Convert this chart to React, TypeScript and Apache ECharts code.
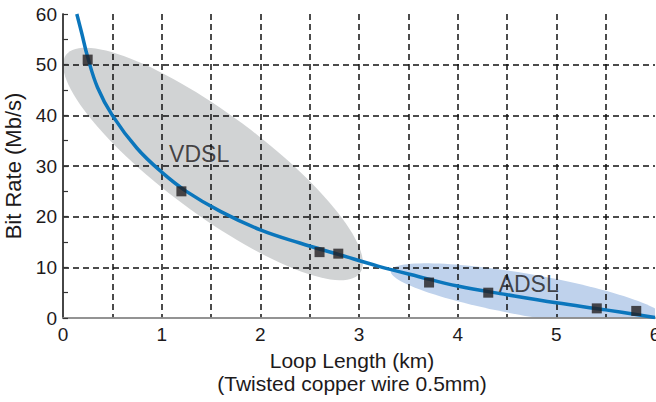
import React, { useEffect, useRef } from "react";
import * as echarts from "echarts";

// Measured data points (Loop length km, bit rate Mb/s)
const measuredPoints: [number, number][] = [
  [0.25, 51], [1.2, 25], [2.6, 13], [2.79, 12.7], [3.71, 7.0], [4.31, 5.0], [5.41, 1.9], [5.81, 1.4],
];

// Fitted curve points
const curvePoints: [number, number][] = [
  [0.14, 60], [0.19, 56.2], [0.25, 51.5], [0.35, 45.5], [0.5, 40], [0.75, 33.5], [1.0, 28.8],
  [1.25, 25.0], [1.6, 21.0], [2.0, 17.4], [2.4, 14.8], [2.8, 12.5], [3.2, 10.2], [3.6, 8.2],
  [4.0, 6.3], [4.5, 4.6], [5.0, 3.0], [5.5, 1.6], [6.0, 0.1],
];

// Region ellipses: [centerX (km), centerY (Mb/s)]
const ellipseCenters: [number, number][] = [[1.52, 30.4], [4.72, 4.5]];
const ellipseNames = ["VDSL", "ADSL"];
const labelPositions: [number, number][] = [[1.38, 32.4], [4.72, 6.7]];

const xTicks = [0, 1, 2, 3, 4, 5, 6];

const ELLIPSE_STYLE = [
  { rx: 183, ry: 50, angle: 36.6, fill: "#d1d3d4" },
  { rx: 140, ry: 21, angle: 10, fill: "#bfd2ec" },
];

const FONT = "'Liberation Sans', Arial, Helvetica, sans-serif";
const INK = "#1d1a1b";

export default function App() {
  const ref = useRef<HTMLDivElement>(null);
  useEffect(() => {
    if (!ref.current) return;
    const chart = echarts.init(ref.current, undefined, { renderer: "svg" });
    const dash = { color: "#111", type: [6, 4] as any, width: 1.5 };
    chart.setOption({
      animation: false,
      textStyle: { fontFamily: FONT },
      grid: { left: 63, right: 1, top: 14, bottom: 84, containLabel: false, outerBoundsMode: "none" },
      xAxis: [
        {
          type: "value", min: 0, max: 6, interval: 0.5, position: "bottom", z: 3,
          name: "Loop Length (km)\n(Twisted copper wire 0.5mm)",
          nameLocation: "middle", nameGap: 27,
          nameTextStyle: { fontSize: 21, color: INK, lineHeight: 23, fontFamily: FONT, padding: [0, 14, 0, 0] },
          axisLine: { show: true, lineStyle: { color: "#8c8c8c", width: 1.5 } },
          axisTick: { show: false },
          axisLabel: {
            fontSize: 19, color: INK, margin: 7, fontFamily: FONT,
            formatter: (v: number) => (xTicks.includes(v) ? String(v) : ""),
          },
          splitLine: { show: true, showMinLine: false, showMaxLine: false, lineStyle: dash },
        },
        {
          type: "value", min: 0, max: 6, position: "top", z: 3,
          axisLine: { show: true, lineStyle: { color: "#8c8c8c", width: 1.5 } },
          axisTick: { show: false }, axisLabel: { show: false }, splitLine: { show: false },
        },
      ],
      yAxis: [
        {
          type: "value", min: 0, max: 60, interval: 10, position: "left", z: 3,
          name: "Bit Rate (Mb/s)", nameLocation: "middle", nameGap: 33,
          nameTextStyle: { fontSize: 22, color: INK, fontFamily: FONT },
          axisLine: { show: true, lineStyle: { color: "#555", width: 1.5 } },
          axisTick: { show: true, inside: true, length: 5, lineStyle: { color: "#333", width: 1.2 } },
          minorTick: { show: true, splitNumber: 2, length: 5, lineStyle: { color: "#333", width: 1.2 } },
          axisLabel: { fontSize: 19, color: INK, margin: 6, fontFamily: FONT },
          splitLine: { show: true, showMinLine: false, showMaxLine: false, lineStyle: dash },
        },
        {
          type: "value", min: 0, max: 60, position: "right", z: 3,
          axisLine: { show: true, lineStyle: { color: "#333", width: 1.5 } },
          axisTick: { show: false }, axisLabel: { show: false }, splitLine: { show: false },
        },
      ],
      series: [
        {
          type: "custom", name: "regions", z: -1, clip: true, silent: true,
          xAxisIndex: 0, yAxisIndex: 0,
          data: ellipseCenters.map((c, i) => [c[0], c[1], i]),
          encode: { x: 0, y: 1 },
          renderItem: (params: any, api: any) => {
            const idx = api.value(2);
            const st = ELLIPSE_STYLE[idx];
            const c = api.coord([api.value(0), api.value(1)]);
            const th = (st.angle * Math.PI) / 180;
            const pts: number[][] = [];
            for (let k = 0; k < 120; k++) {
              const t = (k / 120) * Math.PI * 2;
              const ex = st.rx * Math.cos(t), ey = st.ry * Math.sin(t);
              pts.push([c[0] + ex * Math.cos(th) - ey * Math.sin(th), c[1] + ex * Math.sin(th) + ey * Math.cos(th)]);
            }
            return { type: "polygon", shape: { points: pts }, style: { fill: st.fill } };
          },
        },
        {
          type: "scatter", name: "labels", z: 1, silent: true,
          data: labelPositions.map((p, i) => ({ value: p, name: ellipseNames[i] })),
          symbolSize: 0,
          label: {
            show: true, position: "inside", formatter: (p: any) => p.name,
            fontSize: 23, color: INK, fontFamily: FONT,
          },
        },
        {
          type: "line", name: "fit", data: curvePoints, smooth: 0.4, showSymbol: false, z: 4,
          lineStyle: { color: "#0b76bc", width: 3.5 },
        },
        {
          type: "scatter", name: "measured", data: measuredPoints, symbol: "rect", symbolSize: 10, z: 5,
          itemStyle: { color: "#231f20" },
        },
      ],
    });
    return () => chart.dispose();
  }, []);
  return <div ref={ref} style={{ width: 656, height: 402, position: "absolute", left: 0, top: 0 }} />;
}
